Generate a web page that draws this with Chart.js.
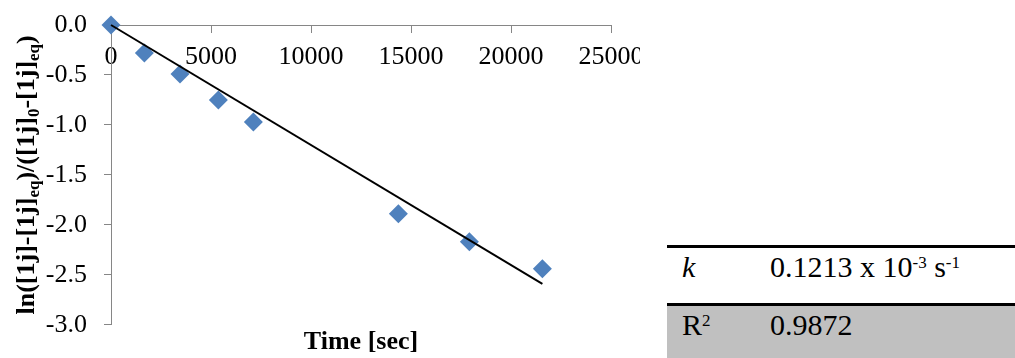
<!DOCTYPE html>
<html>
<head>
<meta charset="utf-8">
<script src="https://cdn.jsdelivr.net/npm/chart.js@4.4.1/dist/chart.umd.min.js"></script>
<style>
  html, body { margin: 0; padding: 0; background: #fff; }
  body { width: 1015px; height: 358px; position: relative; overflow: hidden; font-family: "Liberation Serif", "Times New Roman", serif; color: #000; }
  #chartBox { position: absolute; left: 0; top: 0; width: 640px; height: 358px; }
  .row { position: absolute; left: 667px; width: 348px; border-top: 3px solid #000; font-size: 30px; line-height: 30px; }
  .r1 { top: 245px; height: 55px; }
  .r2 { top: 303px; height: 52px; background: #c0c0c0; }
  .lab { position: absolute; left: 15px; top: 4px; white-space: nowrap; }
  .val { position: absolute; left: 103px; top: 4px; white-space: nowrap; }
  .sup { font-size: 17px; position: relative; top: -9px; }
</style>
</head>
<body>
<div id="chartBox"><canvas id="kineticsChart"></canvas></div>

<div class="row r1"><span class="lab"><i>k</i></span><span class="val">0.1213 x 10<span class="sup">-3</span> s<span class="sup">-1</span></span></div>
<div class="row r2"><span class="lab">R<span class="sup">2</span></span><span class="val">0.9872</span></div>

<script>
// measured points
const timeSec = [0, 1670, 3450, 5370, 7120, 14370, 17920, 21570];
const lnRatio = [0, -0.28, -0.49, -0.75, -0.97, -1.89, -2.17, -2.44];

// linear trendline end points
const fitTime = [0, 21570];
const fitValue = [0, -2.59];

const xTicks = [0, 5000, 10000, 15000, 20000, 25000];
const yTicks = [0, -0.5, -1, -1.5, -2, -2.5, -3];

const axisGray = '#868686';
const serif = '"Liberation Serif", "Times New Roman", serif';

// y title with subscripts, drawn by hand
const yTitlePlugin = {
	id: 'yTitle',
	afterDraw(chart) {
		const ctx = chart.ctx;
		const area = chart.chartArea;
		const parts = [
			['ln([1j]-[1j]', false], ['eq', true], [')/([1j]', false], ['0', true],
			['-[1j]', false], ['eq', true], [')', false]
		];
		const mainFont = 'bold 26px ' + serif;
		const subFont = 'bold 17px ' + serif;
		ctx.save();
		let total = 0;
		parts.forEach(p => {
			ctx.font = p[1] ? subFont : mainFont;
			total += ctx.measureText(p[0]).width;
		});
		ctx.translate(34, (area.top + area.bottom) / 2);
		ctx.rotate(-Math.PI / 2);
		ctx.fillStyle = '#000';
		ctx.textBaseline = 'alphabetic';
		let x = -total / 2;
		parts.forEach(p => {
			ctx.font = p[1] ? subFont : mainFont;
			ctx.fillText(p[0], x, p[1] ? 5 : 0);
			x += ctx.measureText(p[0]).width;
		});
		ctx.restore();
	}
};

const ctx = document.getElementById('kineticsChart').getContext('2d');

new Chart(ctx, {
	type: 'scatter',
	data: {
		datasets: [{
			label: 'fit',
			data: fitTime.map((t, i) => ({ x: t, y: fitValue[i] })),
			showLine: true,
			borderColor: '#000',
			borderWidth: 2,
			pointRadius: 0,
			clip: false,
			order: 0
		}, {
			label: 'data',
			data: timeSec.map((t, i) => ({ x: t, y: lnRatio[i] })),
			pointStyle: 'rectRot',
			pointRadius: 9.5,
			pointHoverRadius: 9.5,
			backgroundColor: '#4f81bd',
			borderColor: '#4f81bd',
			borderWidth: 0,
			clip: false,
			order: 1
		}]
	},
	options: {
		responsive: true,
		maintainAspectRatio: false,
		animation: false,
		layout: { padding: { top: 25, right: 29, bottom: 0, left: 0 } },
		plugins: {
			legend: { display: false },
			tooltip: { enabled: false },
			title: {
				display: true,
				text: 'Time [sec]',
				position: 'bottom',
				fullSize: false,
				color: '#000',
				font: { family: serif, size: 26, weight: 'bold' },
				padding: { top: 2, bottom: 0 }
			}
		},
		scales: {
			x: {
				type: 'linear',
				position: { y: 0 },
				min: 0,
				max: 25000,
				afterBuildTicks: s => { s.ticks = xTicks.map(v => ({ value: v })); },
				afterFit: s => { s.paddingLeft = 0; s.paddingRight = 0; },
				border: { color: axisGray, width: 1 },
				grid: { drawOnChartArea: false, color: axisGray, tickLength: 7 },
				ticks: {
					color: '#000', font: { family: serif, size: 26, weight: 'normal' },
					padding: 10, maxRotation: 0, autoSkip: false,
					callback: v => String(v)
				}
			},
			y: {
				type: 'linear',
				position: 'left',
				min: -3,
				max: 0,
				afterBuildTicks: s => { s.ticks = yTicks.map(v => ({ value: v })); },
				afterFit: s => { s.width = 111; s.paddingTop = 0; s.paddingBottom = 0; },
				border: { color: axisGray, width: 1 },
				grid: { drawOnChartArea: false, color: axisGray, tickLength: 7 },
				ticks: {
					color: '#000', font: { family: serif, size: 26, weight: 'normal' },
					padding: 17, callback: v => v.toFixed(1)
				}
			}
		}
	},
	plugins: [yTitlePlugin]
});
</script>
</body>
</html>
